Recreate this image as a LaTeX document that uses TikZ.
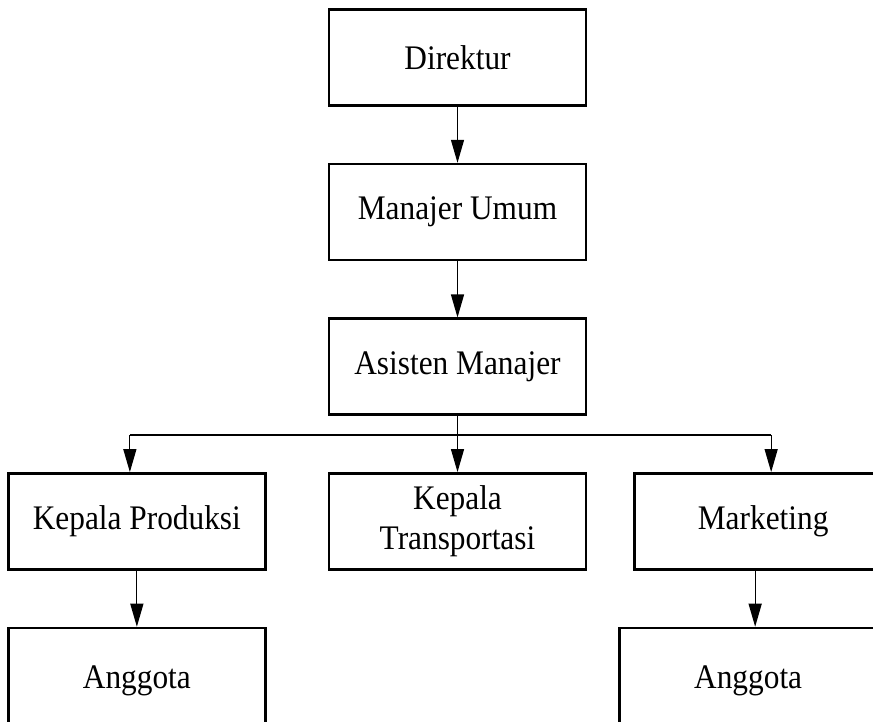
\documentclass[tikz,border=0pt]{standalone}
\usepackage{fontspec}
\setmainfont{Liberation Serif}[FakeStretch=0.91]
\usetikzlibrary{positioning,arrows.meta}

\begin{document}
\begin{tikzpicture}[
    node distance=0.56cm,
    box/.style={rectangle, draw, line width=0.75pt, minimum width=2.57cm, minimum height=0.96cm, align=center, inner sep=1pt, font=\fontsize{9.8pt}{11.4pt}\selectfont},
    arrow/.style={-{Triangle[length=0.23cm, width=0.13cm]}, line width=0.35pt},
    bus/.style={line width=0.7pt}
]
\useasboundingbox (0,0) rectangle (8.73,7.21);

% Pimpinan
\node[box] (direktur) at (4.575,6.635) {Direktur};
\node[box, below=of direktur] (manajer) {Manajer Umum};
\node[box, below=of manajer] (asisten) {Asisten Manajer};

% Kepala bagian
\node[box, below=of asisten] (transportasi) {Kepala\\Transportasi};
\node[box, left=0.61cm of transportasi] (produksi) {Kepala Produksi};
\node[box, right=0.46cm of transportasi] (marketing) {Marketing};

% Anggota
\node[box, minimum height=1.06cm, below=of produksi] (anggotaP) {Anggota};
\node[box, minimum height=1.06cm, below=of marketing, xshift=-0.15cm] (anggotaM) {Anggota};

% Garis bantu
\coordinate[below=0.19cm of asisten.south] (bus);
\coordinate[xshift=-0.07cm] (busL) at (produksi.north |- bus);
\coordinate[xshift=0.08cm] (busR) at (marketing.north |- bus);

% Arrows
\draw[arrow] (direktur) -- (manajer);
\draw[arrow] (manajer) -- (asisten);
\draw[arrow] (asisten) -- (transportasi);
\draw[bus] (busL) -- (busR);
\draw[arrow] (busL) -- (busL |- produksi.north);
\draw[arrow] (busR) -- (busR |- marketing.north);
\draw[arrow] (produksi) -- (anggotaP);
\draw[arrow] ([xshift=-0.08cm]marketing.south) -- ([xshift=-0.08cm]marketing.south |- anggotaM.north);

\end{tikzpicture}
\end{document}
